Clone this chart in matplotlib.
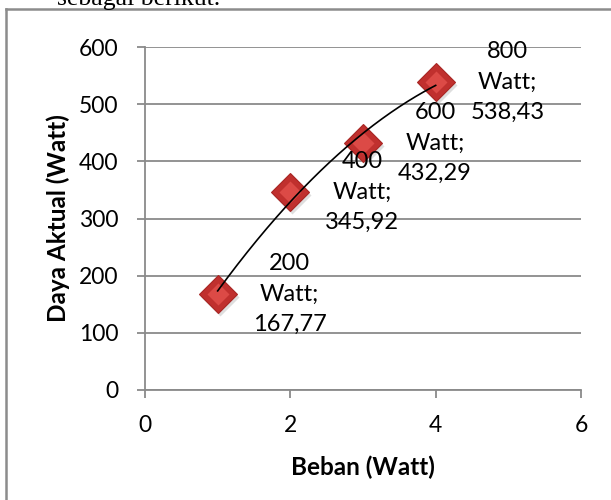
import numpy as np
import matplotlib
matplotlib.use("Agg")
import matplotlib.pyplot as plt
from matplotlib.lines import Line2D

# ---- data ----
x_pos = [1, 2, 3, 4]
beban = [200, 400, 600, 800]
daya = [167.77, 345.92, 432.29, 538.43]
y_ticks = [0, 100, 200, 300, 400, 500, 600]
x_ticks = [0, 2, 4, 6]
x_title = "Beban (Watt)"
y_title = "Daya Aktual (Watt)"
caption = "sebagai berikut."

W, H = 611, 500
fig = plt.figure(figsize=(W / 100, H / 100), dpi=100)
fig.patch.set_facecolor("white")

FONT = "Lato"
GRID = "#8a8a8a"

ax = fig.add_axes([145 / W, 1 - 390 / H, 436 / W, 343 / H])
ax.set_xlim(0, 6)
ax.set_ylim(0, 600)
ax.set_xticks(x_ticks)
ax.set_yticks(y_ticks)
ax.set_xticklabels([str(v) for v in x_ticks], fontfamily=FONT, fontsize=16.5)
ax.set_yticklabels([str(v) for v in y_ticks], fontfamily=FONT, fontsize=16.5)
ax.grid(axis="y", color=GRID, linewidth=1.3, zorder=0)
ax.set_axisbelow(True)
for s in ["top", "right"]:
    ax.spines[s].set_visible(False)
for s in ["left", "bottom"]:
    ax.spines[s].set_color(GRID)
    ax.spines[s].set_linewidth(1.3)
ax.tick_params(axis="both", direction="out", length=6, width=1.3, color=GRID,
               labelcolor="black")
ax.tick_params(axis="y", pad=13)
ax.tick_params(axis="x", pad=12)

ax.set_xlabel(x_title, fontfamily=FONT, fontweight="bold", fontsize=17.5)
ax.set_ylabel(y_title, fontfamily=FONT, fontweight="bold", fontsize=17.5)
ax.xaxis.label.set_verticalalignment("center")
ax.yaxis.label.set_verticalalignment("center")
ax.xaxis.set_label_coords((363 - 145) / 436, (390 - 467) / 343)
ax.yaxis.set_label_coords((58 - 145) / 436, 0.5)

# markers (pseudo 3D bevel)
ax.plot(x_pos, daya, linestyle="none", marker="D", markersize=19,
        markerfacecolor="#c9c9c9", markeredgecolor="none", alpha=0.6,
        transform=ax.transData + matplotlib.transforms.ScaledTranslation(2 / 100, -3 / 100, fig.dpi_scale_trans),
        zorder=3)
ax.plot(x_pos, daya, linestyle="none", marker="D", markersize=19,
        markerfacecolor="#c0302e", markeredgecolor="#a82624", markeredgewidth=0.8,
        zorder=4)
ax.plot(x_pos, daya, linestyle="none", marker="D", markersize=11,
        markerfacecolor="#dc4a46", markeredgecolor="none", zorder=5)

# polynomial (order 2) trendline
coef = np.polyfit(x_pos, daya, 2)
xs = np.linspace(min(x_pos), max(x_pos), 200)
ax.plot(xs, np.polyval(coef, xs), color="black", linewidth=1.2, zorder=6)

# data labels
for xp, b, v in zip(x_pos, beban, daya):
    txt = f"{b}\nWatt;\n{v:.2f}".replace(".", ",")
    ax.annotate(txt, (xp, v), xytext=(72, 0), textcoords="offset pixels",
                ha="center", va="center", multialignment="center",
                fontfamily=FONT, fontsize=17, linespacing=1.55, zorder=7)

# chart frame (partially cropped)
fig.add_artist(Line2D([6 / W, 6 / W], [0, 1 - 9 / H], transform=fig.transFigure,
                      color="#8c8c8c", linewidth=1.8))
fig.add_artist(Line2D([6 / W, 1], [1 - 9 / H, 1 - 9 / H], transform=fig.transFigure,
                      color="#8c8c8c", linewidth=1.8))

# cropped caption above the chart
fig.text(57 / W, 1 - 5 / H, caption, fontfamily="Liberation Serif", fontsize=18.5,
         va="baseline", ha="left", color="black")

fig.savefig("out.png", dpi=100)
